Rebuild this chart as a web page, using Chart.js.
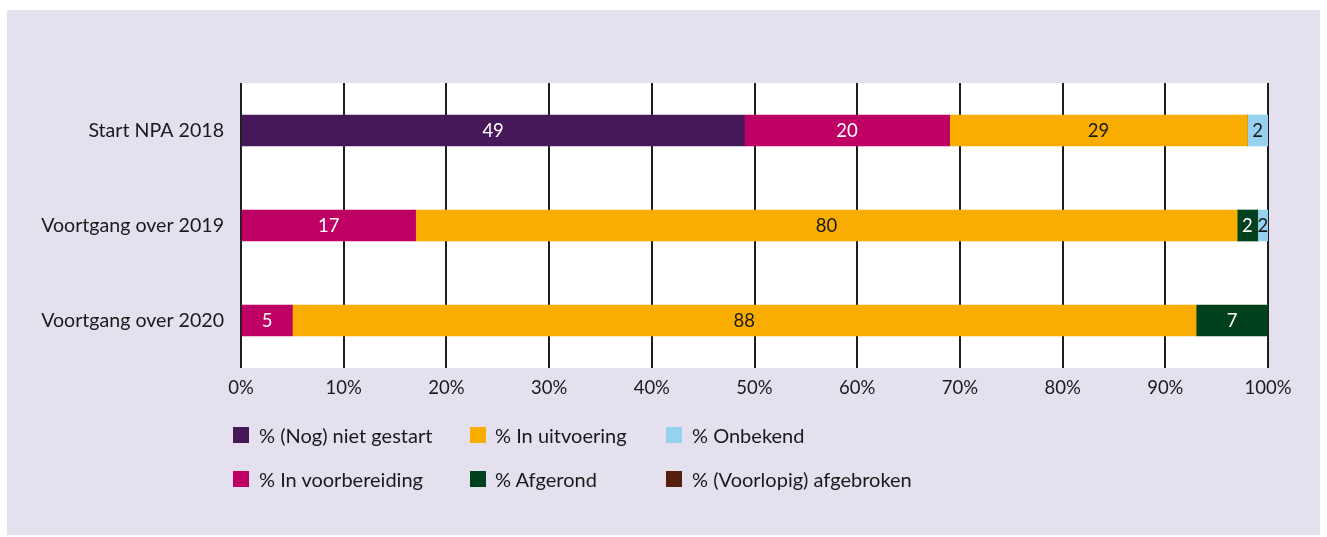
<!DOCTYPE html>
<html lang="nl">
<head>
<meta charset="utf-8">
<title>Voortgang NPA-maatregelen</title>
<script src="https://cdn.jsdelivr.net/npm/chart.js@4.4.1/dist/chart.umd.min.js"></script>
<style>
  html, body { margin: 0; padding: 0; background: #ffffff; }
  body { width: 1327px; height: 537px; position: relative; overflow: hidden; font-family: Lato, "Noto Sans", sans-serif; }
  #panel { position: absolute; left: 7px; top: 10px; width: 1313px; height: 525px; background: #e5e0ee; }
  #wrap { position: absolute; left: 0; top: 0; width: 1327px; height: 537px; }
  #legend { position: absolute; left: 0; top: 0; width: 1327px; height: 537px; pointer-events: none; }
  .item { position: absolute; height: 16px; display: flex; align-items: center; white-space: nowrap; color: #1a1a1a; font-size: 20px; }
  .box { width: 16px; height: 16px; flex: none; }
  .txt { position: absolute; top: -4px; line-height: 24px; }
</style>
</head>
<body>
<div id="panel"></div>
<div id="wrap"><canvas id="c" width="1327" height="537"></canvas></div>
<div id="legend"></div>
<script>
// Rows of the chart
const categories = ['Start NPA 2018', 'Voortgang over 2019', 'Voortgang over 2020'];

// Share of measures per status (percent)
const nietGestart     = [49, 0, 0];
const inVoorbereiding = [20, 17, 5];
const inUitvoering    = [29, 80, 88];
const afgerond        = [0, 2, 7];
const onbekend        = [2, 2, 0];
const afgebroken      = [0, 0, 0];

const xTicks = [0, 10, 20, 30, 40, 50, 60, 70, 80, 90, 100];

const seriesNames = [
  '% (Nog) niet gestart',
  '% In voorbereiding',
  '% In uitvoering',
  '% Afgerond',
  '% Onbekend',
  '% (Voorlopig) afgebroken'
];
const seriesColors = ['#46185a', '#be0064', '#f8ad00', '#00401c', '#96d2f0', '#551e0f'];
const labelColors  = ['#ffffff', '#ffffff', '#1a1a1a', '#ffffff', '#1a1a1a', '#ffffff'];
const seriesValues = [nietGestart, inVoorbereiding, inUitvoering, afgerond, onbekend, afgebroken];

// Legend grid, filled row by row (three columns)
const legendOrder = [0, 2, 4, 1, 3, 5];

const FONT = 'Lato, "Noto Sans", sans-serif';
const INK = '#1a1a1a';

const plotBackground = {
  id: 'plotBackground',
  beforeDraw(chart) {
    const { ctx, chartArea: a } = chart;
    ctx.save();
    ctx.fillStyle = '#ffffff';
    ctx.fillRect(a.left, a.top, a.right - a.left, a.bottom - a.top);
    ctx.restore();
  }
};

const segmentLabels = {
  id: 'segmentLabels',
  afterDatasetsDraw(chart) {
    const { ctx, chartArea: a } = chart;
    ctx.save();
    ctx.font = '18.5px ' + FONT;
    ctx.textAlign = 'center';
    ctx.textBaseline = 'middle';
    chart.data.datasets.forEach((ds, di) => {
      const meta = chart.getDatasetMeta(di);
      meta.data.forEach((bar, i) => {
        const v = ds.data[i];
        if (!v) return;
        const l = Math.max(Math.min(bar.x, bar.base), a.left);
        const r = Math.min(Math.max(bar.x, bar.base), a.right);
        ctx.fillStyle = labelColors[di];
        ctx.fillText(String(v), (l + r) / 2, bar.y + 1);
      });
    });
    ctx.restore();
  }
};

const chart = new Chart(document.getElementById('c'), {
  type: 'bar',
  data: {
    labels: categories,
    datasets: seriesValues.map((vals, i) => ({
      label: seriesNames[i],
      data: vals,
      backgroundColor: seriesColors[i],
      borderWidth: 0,
      barThickness: 31
    }))
  },
  options: {
    indexAxis: 'y',
    responsive: false,
    animation: false,
    devicePixelRatio: 1,
    layout: { padding: { top: 83, right: 59, bottom: 0, left: 0 } },
    plugins: { legend: { display: false }, tooltip: { enabled: false } },
    scales: {
      x: {
        stacked: true,
        min: 0,
        max: 100,
        afterBuildTicks(scale) { scale.ticks = xTicks.map(v => ({ value: v })); },
        afterFit(scale) { scale.height = 169; },
        grid: { color: '#1e1e1e', lineWidth: 2, drawTicks: false },
        border: { display: false },
        ticks: {
          color: INK,
          font: { family: FONT, size: 18.5 },
          padding: 9,
          callback: v => v + '%'
        }
      },
      y: {
        stacked: true,
        afterFit(scale) { scale.width = 241; },
        grid: { display: false, drawTicks: false },
        border: { display: false },
        ticks: {
          color: INK,
          font: { family: FONT, size: 19.6 },
          padding: 17
        }
      }
    }
  },
  plugins: [plotBackground, segmentLabels]
});

// HTML legend from the chart's datasets
const legendEl = document.getElementById('legend');
const colX = [233, 470, 666];
const rowY = [427, 471];
legendOrder.forEach((di, k) => {
  const ds = chart.data.datasets[di];
  const col = k % 3, row = Math.floor(k / 3);
  const item = document.createElement('div');
  item.className = 'item';
  item.style.left = colX[col] + 'px';
  item.style.top = rowY[row] + 'px';
  const box = document.createElement('span');
  box.className = 'box';
  box.style.background = ds.backgroundColor;
  const txt = document.createElement('span');
  txt.className = 'txt';
  txt.style.left = (col === 1 ? 25 : 26) + 'px';
  txt.textContent = ds.label;
  item.appendChild(box);
  item.appendChild(txt);
  legendEl.appendChild(item);
});
</script>
</body>
</html>
